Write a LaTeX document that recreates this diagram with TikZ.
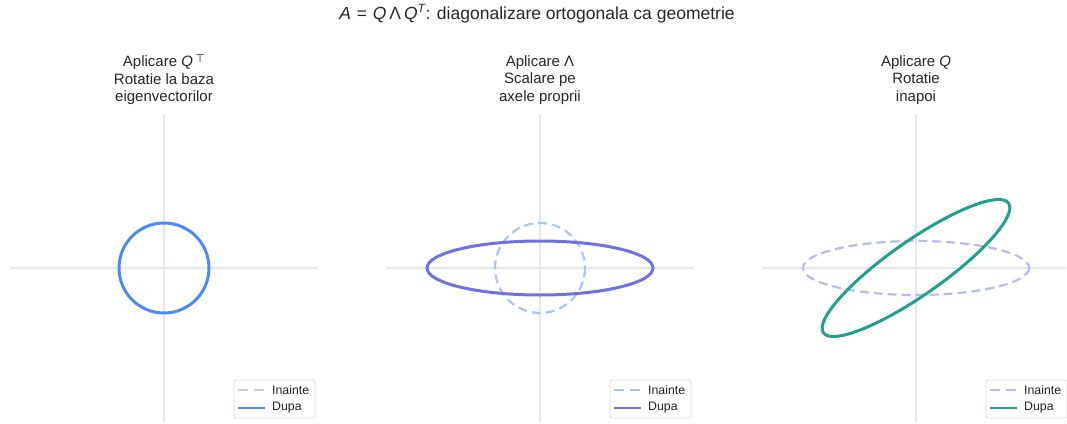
\documentclass[tikz,border=0pt]{standalone}
\usepackage{fontspec}
\setmainfont{Liberation Sans}
\newfontfamily\djv{DejaVu Sans}
\definecolor{axisc}{HTML}{E2E7EF}
\definecolor{blueA}{HTML}{4A8AF4}
\definecolor{blueL}{HTML}{A6C5FA}
\definecolor{purA}{HTML}{6F6FE6}
\definecolor{purL}{HTML}{B9B9F4}
\definecolor{greenA}{HTML}{21A08D}
\definecolor{grayL}{HTML}{CFCFCF}
\definecolor{legb}{HTML}{DCDCDC}
\definecolor{txt}{HTML}{262626}
\begin{document}
\begin{tikzpicture}[x=1pt,y=-1pt,
  axisline/.style={draw=axisc,line width=1.1pt},
  mainc/.style={line width=3pt},
  dashc/.style={line width=2.2pt,dash pattern=on 9pt off 5pt},
  legbox/.style={draw=legb,line width=0.8pt,rounded corners=2pt,fill=white,minimum width=81pt,minimum height=38pt,inner sep=0pt},
  legtxt/.style={anchor=west,font=\fontsize{12.3}{14}\selectfont,text=txt,inner sep=0pt},
  headtxt/.style={align=center,font=\fontsize{15}{17.5}\selectfont,text=txt,inner sep=0pt},
  titletxt/.style={font=\fontsize{17.5}{20}\selectfont,text=txt,inner sep=0pt}]
\useasboundingbox (0,0) rectangle (1067,423);
\node[titletxt] (title) at (537,14) {\textit{A}\,\,=\,\,\textit{Q}\,Λ\,\textit{Q}\raisebox{0.75ex}{\fontsize{12}{13}\selectfont\textit{T}}: diagonalizare ortogonala ca geometrie};
% panel headings
\node[headtxt] (h1) at (164,80) {Aplicare \textit{Q}\,{\djv\raisebox{0.45ex}{\fontsize{11}{12}\selectfont ⊤}}\\Rotatie la baza\\eigenvectorilor};
\node[headtxt] (h2) at (540,80) {Aplicare Λ\\Scalare pe\\axele proprii};
\node[headtxt] (h3) at (916,80) {Aplicare \textit{Q}\\Rotatie\\inapoi};
% axes
\foreach \c/\l/\r in {164/10/318,540/386/694,916/762/1066}{
  \draw[axisline] (\l,268) -- (\r,268);
  \draw[axisline] (\c,114) -- (\c,423);
}
% panel 1
\draw[mainc,blueA] (164,268) circle [radius=45];
% panel 2
\draw[dashc,blueL] (540,268) circle [radius=45];
\draw[mainc,purA] (540,268) ellipse [x radius=113, y radius=27];
% panel 3
\draw[dashc,purL] (916,268) ellipse [x radius=113, y radius=27];
\draw[mainc,greenA,rotate around={35:(916,268)}] (916,268) ellipse [x radius=113, y radius=27];
% legends
\foreach \c/\n/\cl/\cm in {164/a/grayL/blueA,540/b/blueL/purA,916/c/purL/greenA}{
  \node[legbox] (leg\n) at (\c+110.5,399) {};
  \coordinate (la\n) at (\c+74,390);
  \coordinate (lb\n) at (\c+101,390);
  \coordinate (lc\n) at (\c+74,408);
  \coordinate (ld\n) at (\c+101,408);
  \draw[\cl,line width=2pt,dash pattern=on 10pt off 6pt] (la\n) -- (lb\n);
  \draw[\cm,line width=2.8pt] (lc\n) -- (ld\n);
  \node[legtxt] (ti\n) at (\c+108,390) {Inainte};
  \node[legtxt] (tu\n) at (\c+108,408) {Dupa};
}
\end{tikzpicture}
\end{document}
